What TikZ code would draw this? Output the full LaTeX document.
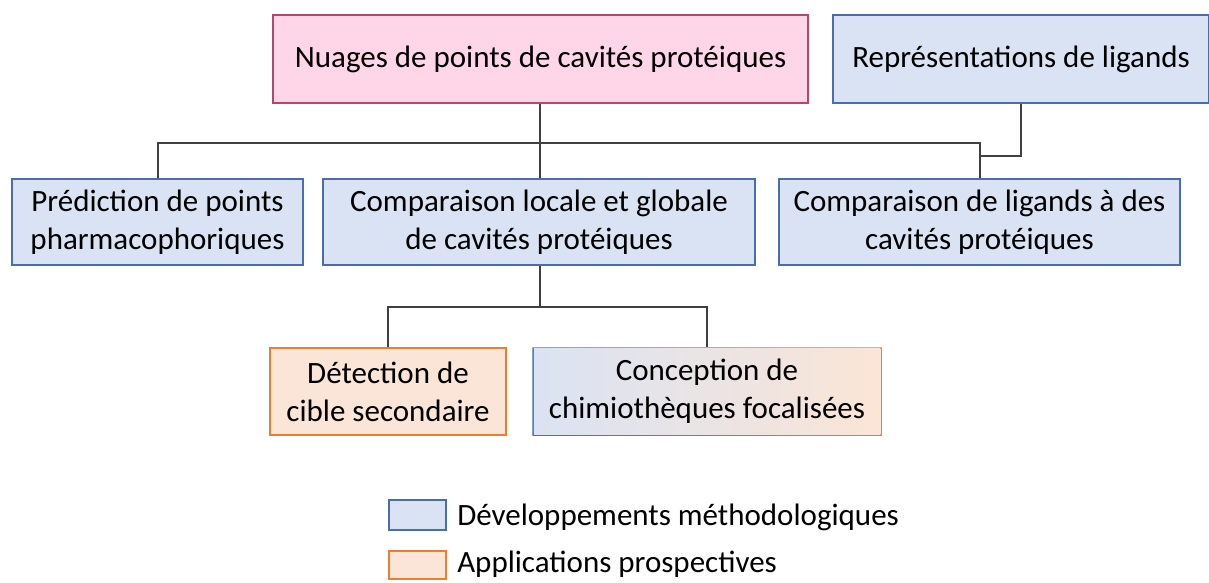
\documentclass[tikz,border=0pt]{standalone}
\usepackage{fontspec}
\setmainfont{Carlito}
\definecolor{bleufond}{HTML}{DAE3F3}
\definecolor{bleubord}{HTML}{4A6EAD}
\definecolor{orfond}{HTML}{FBE5D6}
\definecolor{orbord}{HTML}{ED7D31}
\definecolor{rosefond}{HTML}{FFD5E8}
\definecolor{rosebord}{HTML}{B5466F}
\definecolor{trait}{HTML}{404040}
\tikzset{
  boite/.style={draw, line width=1.5pt, align=center, inner sep=0pt,
    font=\fontsize{31}{38}\selectfont},
  methbox/.style={boite, fill=bleufond, draw=bleubord},
  appbox/.style={boite, fill=orfond, draw=orbord},
  lien/.style={draw=trait, line width=2pt}
}
\begin{document}
\begin{tikzpicture}[x=1pt,y=-1pt]
  \useasboundingbox (0,0) rectangle (1209,582);

  % niveau 1
  \node[boite, fill=rosefond, draw=rosebord, minimum width=535pt, minimum height=88pt]
    (nuages) at (540.5,59) {Nuages de points de cavités protéiques};
  \node[methbox, minimum width=376pt, minimum height=88pt]
    (repr) at (1021,59) {Représentations de ligands};

  % niveau 2
  \node[methbox, minimum width=291pt, minimum height=86pt]
    (pred) at (157.5,222) {Prédiction de points\\pharmacophoriques};
  \node[methbox, minimum width=432pt, minimum height=86pt]
    (comp) at (539,222) {Comparaison locale et globale\\de cavités protéiques};
  \node[methbox, minimum width=401pt, minimum height=86pt]
    (lig) at (979.5,222) {Comparaison de ligands à des\\cavités protéiques};

  % niveau 3
  \node[appbox, minimum width=236pt, minimum height=87pt]
    (detec) at (388,391.5) {Détection de\\cible secondaire};
  \shade[left color=bleubord, right color=orbord, even odd rule]
    (532.25,347.25) rectangle (881.75,435.75) (533.75,348.75) rectangle (880.25,434.25);
  \shade[left color=bleufond, right color=orfond] (533.75,348.75) rectangle (880.25,434.25);
  \node[boite, draw=none, minimum width=348pt, minimum height=87pt]
    (concep) at (707,391.5) {Conception de\\chimiothèques focalisées};

  % liens
  \coordinate (j1) at (540,143);
  \coordinate (j2) at (540,307);
  \path[lien] (nuages.south -| j1) -- (j1);
  \path[lien] (pred.north) |- (j1) -| (lig.north);
  \path[lien] (j1) -- (comp.north -| j1);
  \path[lien] (repr.south) |- ([yshift=22pt]lig.north);
  \path[lien] (comp.south -| j2) -- (j2);
  \path[lien] (detec.north) |- (j2) -| (concep.north);

  % légende
  \node[methbox, minimum width=57pt, minimum height=30pt] (legm) at (417.5,515) {};
  \node[appbox, minimum width=57pt, minimum height=28pt] (lega) at (417.5,565) {};
  \node[anchor=west, font=\fontsize{31}{38}\selectfont] (txtm) at ([xshift=7pt,yshift=-2pt]legm.east) {Développements méthodologiques};
  \node[anchor=west, font=\fontsize{31}{38}\selectfont] (txta) at ([xshift=7pt,yshift=1pt]lega.east) {Applications prospectives};
\end{tikzpicture}
\end{document}
